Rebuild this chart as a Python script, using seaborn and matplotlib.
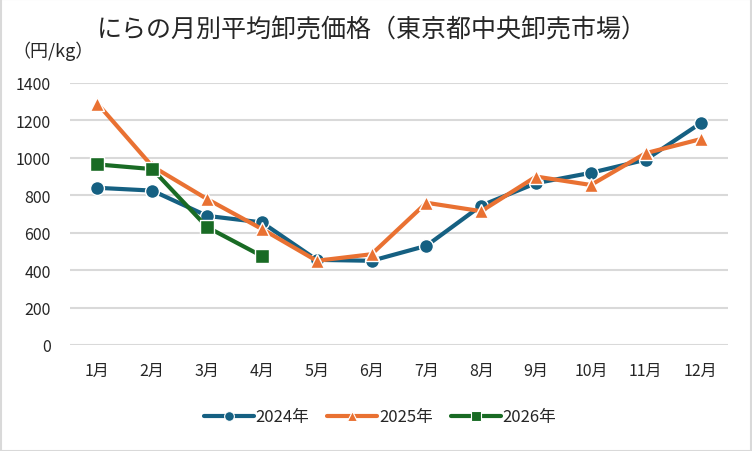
import matplotlib
matplotlib.use("Agg")
import matplotlib.pyplot as plt
import seaborn as sns
import pandas as pd

months = ["1月", "2月", "3月", "4月", "5月", "6月", "7月", "8月", "9月", "10月", "11月", "12月"]
price_2024 = [840, 825, 690, 655, 455, 450, 530, 745, 865, 920, 990, 1185]
price_2025 = [1290, 955, 780, 620, 450, 485, 760, 715, 900, 855, 1025, 1100]
price_2026 = [965, 940, 630, 475]
years = ["2024年", "2025年", "2026年"]

rows = []
for year, values in zip(years, [price_2024, price_2025, price_2026]):
    for i, v in enumerate(values):
        rows.append({"month": i, "price": v, "year": year})
df = pd.DataFrame(rows)

sns.set_theme(style="white")
plt.rcParams["font.family"] = ["Noto Sans CJK JP", "DejaVu Sans"]

palette = {"2024年": "#156082", "2025年": "#E97132", "2026年": "#196B24"}
markers = {"2024年": "o", "2025年": "^", "2026年": "s"}

fig = plt.figure(figsize=(7.52, 4.52), dpi=100)
ax = fig.add_axes([70 / 752, 1 - 346 / 452, 658 / 752, 262 / 452])

sns.lineplot(
    data=df, x="month", y="price", hue="year", style="year",
    palette=palette, markers=markers, dashes=False,
    linewidth=3, markersize=10, markeredgecolor="white", markeredgewidth=1,
    ax=ax, legend=True, sort=False,
)

ax.set_xlim(-0.5, 11.5)
ax.set_ylim(0, 1400)
ax.set_yticks(range(0, 1401, 200))
ax.set_xticks(range(12))
ax.set_xticklabels(months)
ax.tick_params(axis="both", labelsize=11.5, colors="#262626", length=0)
ax.tick_params(axis="x", pad=12)
ax.tick_params(axis="y", pad=14)
ax.grid(axis="y", color="#D9D9D9", linewidth=1.5)
ax.set_axisbelow(True)
for s in ax.spines.values():
    s.set_visible(False)
ax.set_xlabel("")
ax.set_ylabel("")

handles, labels = ax.get_legend_handles_labels()
for h in handles:
    h.set_markersize(7)
    h.set_markeredgewidth(0.8)
ax.legend(handles, labels, loc="center", bbox_to_anchor=(380 / 752, 1 - 418 / 452),
          bbox_transform=fig.transFigure, ncol=3, frameon=False, fontsize=12,
          handlelength=3, columnspacing=1.1, handletextpad=0.1)

fig.text(372 / 752, 1 - 30 / 452, "にらの月別平均卸売価格（東京都中央卸売市場）",
         ha="center", va="center", fontsize=18, color="#262626")
fig.text(12 / 752, 1 - 51 / 452, "（円/kg）", ha="left", va="center",
         fontsize=13, color="#262626")

fig.patches.append(plt.Rectangle((0.001, 0.001), 0.998, 0.998, transform=fig.transFigure,
                                 fill=False, edgecolor="#D9D9D9", linewidth=1.5))

fig.savefig("out.png", dpi=100)
